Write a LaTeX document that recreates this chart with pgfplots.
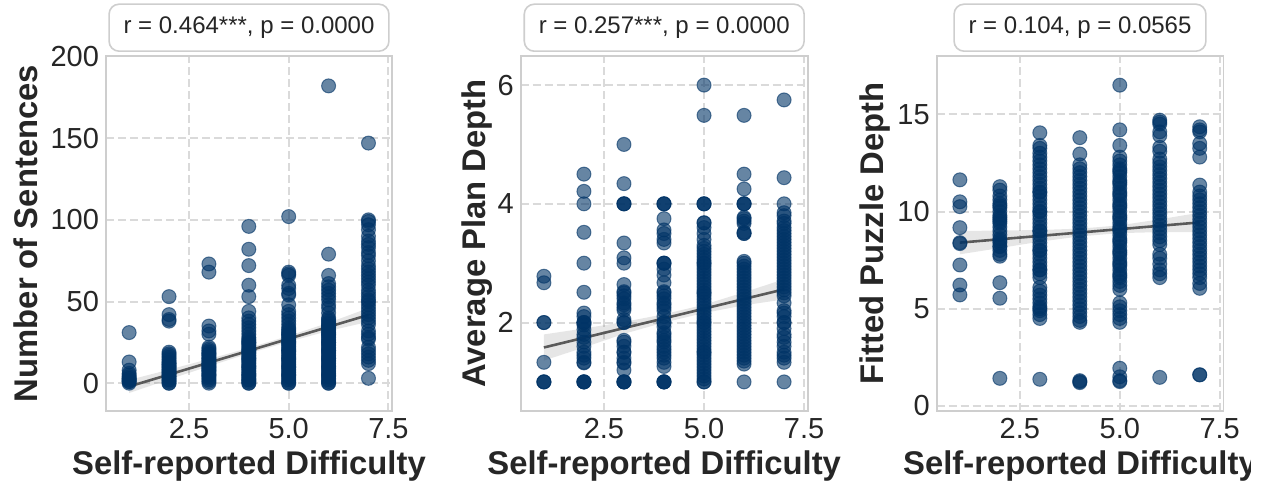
\documentclass[border=0pt]{standalone}
\usepackage{fontspec}
\setmainfont{Liberation Sans}
\usepackage{pgfplots}
\pgfplotsset{compat=1.18}
\definecolor{navy}{RGB}{0,51,102}
\definecolor{txt}{RGB}{38,38,38}
\definecolor{gridc}{RGB}{218,218,218}
\definecolor{framec}{RGB}{206,206,206}
\definecolor{regc}{RGB}{90,90,90}
\pgfplotsset{
 panel/.style={
  scale only axis, width=143pt, height=177.5pt,
  xmin=0.42, xmax=7.59,
  xtick={2.5,5,7.5}, xticklabels={2.5,5.0,7.5},
  tick style={draw=none},
  grid=major,
  major grid style={gridc, dash pattern=on 4pt off 2pt, line width=1pt},
  axis line style={framec, line width=0.8pt},
  ticklabel style={font=\fontsize{14.5}{16}\selectfont, text=txt},
  label style={font=\bfseries\fontsize{16.4}{19}\selectfont, text=txt},
  /pgf/number format/assume math mode=true,
  xlabel={Self-reported Difficulty},
  xlabel style={at={(axis description cs:0.5,-0.18)}, anchor=base},
  clip=true,
 },
 pts/.style={only marks, mark=*, mark size=3.5pt, mark options={fill=navy, draw=navy, fill opacity=0.6, draw opacity=0.6, line width=0.5pt}},
 reg/.style={regc, line width=1.3pt},
 band/.style={fill=regc, fill opacity=0.15, draw=none},
}
\tikzset{
 ann/.style={anchor=south, yshift=2pt, draw=framec, line width=0.8pt, rounded corners=5pt, fill=white, inner xsep=7.25pt, minimum height=23.5pt, text=txt, font=\fontsize{12}{14}\selectfont},
}
\begin{document}
\begin{tikzpicture}
\useasboundingbox (0,0) rectangle (631.5pt,242.5pt);
\clip (0,0) rectangle (625pt,242.5pt);
% ---------------- Panel 1 ----------------
\begin{axis}[panel, name=ax1, at={(53pt,37pt)}, anchor=south west,
  ymin=-17, ymax=200.3, ytick={0,50,100,150,200},
  ylabel={Number of Sentences},
  ylabel style={at={(axis description cs:-0.241,0.5)}, anchor=base}]
\addplot[pts] coordinates {
(1,31)(1,13)(1,8)(1,6)(1,5)(1,4)(1,3)(1,3)(1,2)(1,2)(1,1)(1,1)(1,0)
(2,53)(2,42)(2,39)(2,38)(2,19)(2,18)(2,17)(2,16)(2,15)(2,14)(2,13)(2,12)(2,12)(2,11)(2,10)(2,10)(2,9)(2,8)(2,8)(2,7)(2,6)(2,6)(2,5)(2,4)(2,4)(2,3)(2,2)(2,2)(2,1)(2,0)(2,0)
(3,73)(3,68)(3,35)(3,32)(3,30)(3,22)(3,21)(3,20)(3,19)(3,18)(3,18)(3,17)(3,16)(3,15)(3,15)(3,14)(3,13)(3,12)(3,12)(3,11)(3,10)(3,10)(3,9)(3,8)(3,8)(3,7)(3,6)(3,5)(3,5)(3,4)(3,3)(3,2)(3,1)(3,0)
(4,96)(4,82)(4,72)(4,60)(4,53)(4,44)(4,40)(4,38)(4,36)(4,34)(4,32)(4,30)(4,28)(4,27)(4,26)(4,25)(4,24)(4,23)(4,22)(4,21)(4,20)(4,19)(4,18)(4,17)(4,16)(4,15)(4,14)(4,13)(4,12)(4,11)(4,10)(4,9)(4,8)(4,7)(4,6)(4,5)(4,4)(4,3)(4,2)(4,1)(4,0)(4,25)(4,20)(4,15)(4,10)(4,5)(4,2)(4,0)
(5,102)(5,68)(5,67)(5,66)(5,60)(5,58)(5,55)(5,54)(5,48)(5,44)(5,42)(5,40)(5,38)(5,36)(5,34)(5,33)(5,32)(5,31)(5,30)(5,29)(5,28)(5,27)(5,26)(5,25)(5,24)(5,23)(5,22)(5,21)(5,20)(5,19)(5,18)(5,17)(5,16)(5,15)(5,14)(5,13)(5,12)(5,11)(5,10)(5,9)(5,8)(5,7)(5,6)(5,5)(5,4)(5,3)(5,2)(5,1)(5,0)(5,30)(5,25)(5,20)(5,15)(5,10)(5,5)(5,0)
(6,182)(6,79)(6,66)(6,61)(6,59)(6,57)(6,55)(6,53)(6,51)(6,48)(6,46)(6,43)(6,40)(6,39)(6,38)(6,37)(6,36)(6,35)(6,34)(6,33)(6,32)(6,31)(6,30)(6,29)(6,28)(6,27)(6,26)(6,25)(6,24)(6,23)(6,22)(6,21)(6,20)(6,19)(6,18)(6,17)(6,16)(6,15)(6,14)(6,13)(6,12)(6,11)(6,10)(6,9)(6,8)(6,7)(6,6)(6,5)(6,4)(6,3)(6,2)(6,1)(6,0)(6,35)(6,30)(6,25)(6,20)(6,15)(6,10)(6,5)(6,0)
(7,147)(7,100)(7,99)(7,97)(7,94)(7,90)(7,87)(7,85)(7,83)(7,80)(7,78)(7,75)(7,72)(7,70)(7,68)(7,66)(7,64)(7,62)(7,60)(7,57)(7,55)(7,53)(7,51)(7,50)(7,48)(7,46)(7,44)(7,42)(7,40)(7,38)(7,36)(7,32)(7,30)(7,28)(7,27)(7,22)(7,20)(7,18)(7,16)(7,14)(7,12)(7,3)
};
\addplot[band] coordinates {(1,2)(2,8.3)(3,14.8)(4,21.6)(5,29.0)(6,37.0)(7,46.0)(7,37.6)(6,32.0)(5,25.4)(4,18.2)(3,10.4)(2,2.3)(1,-6)} -- cycle;
\addplot[reg] coordinates {(1,-2)(7,41.8)};
\end{axis}
\node[ann] at (ax1.north) {r = 0.464***, p = 0.0000};
% ---------------- Panel 2 ----------------
\begin{axis}[panel, name=ax2, at={(260.35pt,37pt)}, anchor=south west, width=143.5pt,
  ymin=0.51, ymax=6.49, ytick={2,4,6},
  ylabel={Average Plan Depth},
  ylabel style={at={(axis description cs:-0.124,0.5)}, anchor=base}]
\addplot[pts] coordinates {
(1,2.78)(1,2.67)(1,2)(1,2)(1,1.33)(1,1)(1,1)(1,1)
(2,4.5)(2,4.21)(2,4)(2,3.52)(2,3.0)(2,2.51)(2,2.16)(2,2.1)(2,2)(2,2)(2,2)(2,1.96)(2,1.88)(2,1.8)(2,1.75)(2,1.67)(2,1.6)(2,1.5)(2,1.45)(2,1.4)(2,1.33)(2,1.32)(2,1)(2,1)(2,1)(2,1)
(3,5)(3,4.34)(3,4)(3,4)(3,4)(3,3.34)(3,3.09)(3,3)(3,2.64)(3,2.52)(3,2.5)(3,2.45)(3,2.4)(3,2.33)(3,2.3)(3,2.25)(3,2.21)(3,2.05)(3,2)(3,2)(3,1.7)(3,1.67)(3,1.6)(3,1.5)(3,1.5)(3,1.4)(3,1.33)(3,1.32)(3,1.2)(3,1)(3,1)(3,1)(3,1)
(4,4)(4,4)(4,4)(4,3.75)(4,3.56)(4,3.5)(4,3.4)(4,3.34)(4,3)(4,3)(4,3)(4,2.9)(4,2.8)(4,2.67)(4,2.52)(4,2.5)(4,2.45)(4,2.4)(4,2.33)(4,2.3)(4,2.25)(4,2.2)(4,2.1)(4,2)(4,2)(4,1.93)(4,1.83)(4,1.8)(4,1.75)(4,1.7)(4,1.67)(4,1.6)(4,1.55)(4,1.5)(4,1.45)(4,1.4)(4,1.33)(4,1.26)(4,1)(4,1)(4,1)(4,1)
(5,6)(5,5.49)(5,4)(5,4)(5,4)(5,3.68)(5,3.68)(5,3.6)(5,3.5)(5,3.4)(5,3.30)(5,3.25)(5,3.20)(5,3.15)(5,3.10)(5,3.05)(5,3.00)(5,2.95)(5,2.90)(5,2.85)(5,2.80)(5,2.75)(5,2.70)(5,2.65)(5,2.60)(5,2.55)(5,2.50)(5,2.45)(5,2.40)(5,2.35)(5,2.30)(5,2.25)(5,2.20)(5,2.15)(5,2.10)(5,2.05)(5,2.00)(5,1.95)(5,1.90)(5,1.85)(5,1.80)(5,1.75)(5,1.70)(5,1.65)(5,1.60)(5,1.55)(5,1.50)(5,1.45)(5,1.40)(5,1.35)(5,1.30)(5,1.25)(5,1.20)(5,1.15)(5,1.10)(5,1.05)(5,1.00)(5,3)(5,2.5)(5,2)(5,1.5)(5,1)
(6,5.49)(6,4.5)(6,4.25)(6,4)(6,4)(6,4)(6,3.77)(6,3.75)(6,3.71)(6,3.67)(6,3.52)(6,3.5)(6,3.5)(6,3.03)(6,3.00)(6,2.95)(6,2.90)(6,2.85)(6,2.80)(6,2.75)(6,2.70)(6,2.65)(6,2.60)(6,2.55)(6,2.50)(6,2.45)(6,2.40)(6,2.35)(6,2.30)(6,2.25)(6,2.20)(6,2.15)(6,2.10)(6,2.05)(6,2.00)(6,1.95)(6,1.90)(6,1.85)(6,1.80)(6,1.75)(6,1.70)(6,1.65)(6,1.60)(6,1.55)(6,1.50)(6,1.45)(6,1.40)(6,1.35)(6,1.30)(6,1)
(7,5.75)(7,4.44)(7,4)(7,3.85)(7,3.8)(7,3.71)(7,3.67)(7,3.60)(7,3.55)(7,3.50)(7,3.45)(7,3.40)(7,3.35)(7,3.30)(7,3.25)(7,3.20)(7,3.15)(7,3.10)(7,3.05)(7,3.00)(7,2.95)(7,2.90)(7,2.85)(7,2.80)(7,2.75)(7,2.70)(7,2.65)(7,2.60)(7,2.55)(7,2.50)(7,2.45)(7,2.33)(7,2.2)(7,2.16)(7,2.1)(7,2)(7,2)(7,1.9)(7,1.8)(7,1.75)(7,1.67)(7,1.6)(7,1.5)(7,1.45)(7,1.4)(7,1.33)(7,1)
};
\addplot[band] coordinates {(1,1.80)(2,1.90)(3,2.01)(4,2.14)(5,2.30)(6,2.51)(7,2.73)(7,2.39)(6,2.29)(5,2.16)(4,2.00)(3,1.81)(2,1.58)(1,1.36)} -- cycle;
\addplot[reg] coordinates {(1,1.58)(7,2.56)};
\end{axis}
\node[ann] at (ax2.north) {r = 0.257***, p = 0.0000};
% ---------------- Panel 3 ----------------
\begin{axis}[panel, name=ax3, at={(468.35pt,37pt)}, anchor=south west, width=143.3pt,
  ymin=-0.26, ymax=18, ytick={0,5,10,15},
  ylabel={Fitted Puzzle Depth},
  ylabel style={at={(axis description cs:-0.186,0.5)}, anchor=base}]
\addplot[pts] coordinates {
(1,11.63)(1,10.5)(1,10.25)(1,9.17)(1,8.4)(1,8.35)(1,7.25)(1,6.22)(1,5.71)
(2,11.28)(2,11.1)(2,10.8)(2,10.6)(2,10.4)(2,10.2)(2,10.0)(2,9.8)(2,9.6)(2,9.4)(2,9.2)(2,9.0)(2,8.8)(2,8.6)(2,8.4)(2,8.2)(2,8.0)(2,7.8)(2,10.3)(2,9.7)(2,9.5)(2,8.5)(2,8.2)(2,7.7)(2,6.34)(2,5.54)(2,1.42)
(3,14.05)(3,13.4)(3,13.25)(3,13.0)(3,12.8)(3,12.6)(3,12.4)(3,12.2)(3,12.0)(3,11.8)(3,11.6)(3,11.4)(3,11.2)(3,11.0)(3,10.8)(3,10.6)(3,10.4)(3,10.2)(3,10.0)(3,9.8)(3,9.6)(3,9.4)(3,9.2)(3,9.0)(3,8.8)(3,8.6)(3,8.4)(3,8.2)(3,8.0)(3,7.8)(3,7.6)(3,7.4)(3,7.2)(3,7.0)(3,6.8)(3,6.6)(3,11.0)(3,10.0)(3,9.0)(3,8.0)(3,7.0)(3,6.1)(3,5.9)(3,5.7)(3,5.5)(3,5.3)(3,5.1)(3,4.9)(3,4.7)(3,4.5)(3,5.0)(3,1.37)
(4,13.8)(4,12.96)(4,12.4)(4,12.2)(4,12.0)(4,11.8)(4,11.6)(4,11.4)(4,11.2)(4,11.0)(4,10.8)(4,10.6)(4,10.4)(4,10.2)(4,10.0)(4,9.8)(4,9.6)(4,9.4)(4,9.2)(4,9.0)(4,8.8)(4,8.6)(4,8.4)(4,8.2)(4,8.0)(4,7.8)(4,7.6)(4,7.4)(4,7.2)(4,7.0)(4,6.8)(4,6.6)(4,6.4)(4,6.2)(4,6.0)(4,5.8)(4,5.6)(4,5.4)(4,5.2)(4,5.0)(4,4.8)(4,4.6)(4,4.4)(4,4.3)(4,1.3)(4,1.25)(4,1.2)
(5,16.5)(5,14.2)(5,13.4)(5,12.8)(5,12.6)(5,12.4)(5,12.2)(5,12.0)(5,11.8)(5,11.6)(5,11.4)(5,11.2)(5,11.0)(5,10.8)(5,10.6)(5,10.4)(5,10.2)(5,10.0)(5,9.8)(5,9.6)(5,9.4)(5,9.2)(5,9.0)(5,8.8)(5,8.6)(5,8.4)(5,8.2)(5,8.0)(5,7.8)(5,7.6)(5,7.4)(5,7.2)(5,7.0)(5,6.8)(5,6.6)(5,6.4)(5,6.2)(5,6.0)(5,12.1)(5,11.5)(5,10.9)(5,10.3)(5,9.7)(5,9.1)(5,8.5)(5,7.9)(5,7.3)(5,6.7)(5,5.3)(5,5.1)(5,4.9)(5,4.7)(5,4.5)(5,4.3)(5,1.94)(5,1.5)(5,1.3)(5,1.25)
(6,14.7)(6,14.6)(6,14.5)(6,14.1)(6,13.9)(6,13.3)(6,13.1)(6,12.7)(6,12.5)(6,12.3)(6,12.1)(6,11.9)(6,11.7)(6,11.5)(6,11.3)(6,11.1)(6,10.9)(6,10.7)(6,10.5)(6,10.3)(6,10.1)(6,9.9)(6,9.7)(6,9.5)(6,9.3)(6,9.1)(6,8.9)(6,8.7)(6,8.5)(6,8.3)(6,7.8)(6,7.6)(6,7.3)(6,7.0)(6,6.8)(6,6.6)(6,1.47)
(7,14.36)(7,14.2)(7,14.1)(7,13.5)(7,13.25)(7,12.8)(7,11.36)(7,11.0)(7,10.8)(7,10.6)(7,10.4)(7,10.2)(7,10.0)(7,9.8)(7,9.6)(7,9.4)(7,9.2)(7,9.0)(7,8.8)(7,8.6)(7,8.4)(7,8.2)(7,8.0)(7,7.8)(7,7.6)(7,7.4)(7,7.2)(7,7.0)(7,6.8)(7,6.6)(7,6.3)(7,6.05)(7,1.6)(7,1.6)
};
\addplot[band] coordinates {(1,9.0)(2,9.02)(3,9.05)(4,9.12)(5,9.29)(6,9.6)(7,9.94)(7,8.94)(6,8.94)(5,8.89)(4,8.72)(3,8.45)(2,8.12)(1,7.8)} -- cycle;
\addplot[reg] coordinates {(1,8.4)(7,9.44)};
\end{axis}
\node[ann] at (ax3.north) {r = 0.104, p = 0.0565};
\end{tikzpicture}
\end{document}
